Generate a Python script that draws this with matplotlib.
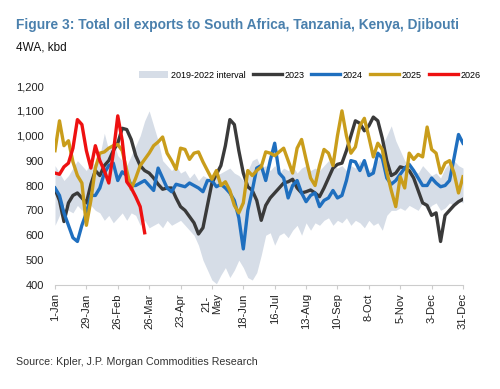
import matplotlib
matplotlib.use("Agg")
import matplotlib.pyplot as plt
import numpy as np

plt.rcParams['font.family'] = ['Liberation Sans', 'DejaVu Sans']

STEP = 4
tick_days = [0, 28, 56, 84, 112, 140, 168, 196, 224, 252, 280, 308, 336, 364]
tick_labels = ["1-Jan", "29-Jan", "26-Feb", "26-Mar", "23-Apr", "21-\nMay", "18-Jun",
               "16-Jul", "13-Aug", "10-Sep", "8-Oct", "5-Nov", "3-Dec", "31-Dec"]

band_lo = [640, 680, 720, 700, 690, 720, 700, 740, 720, 700, 690, 660, 680, 650, 670, 690,
           660, 690, 680, 640, 660, 630, 640, 650, 630, 660, 640, 650, 660, 640, 620, 600,
           560, 500, 460, 420, 405, 440, 470, 430, 460, 500, 470, 430, 420, 450, 520, 600,
           610, 560, 600, 610, 590, 620, 640, 600, 650, 620, 650, 640, 660, 670, 640, 660,
           650, 670, 640, 660, 650, 630, 660, 640, 650, 620, 680, 700, 700, 710, 700, 720,
           710, 700, 730, 700, 720, 730, 700, 710, 730, 720, 740, 730]
band_hi = [880, 850, 820, 840, 870, 900, 880, 860, 900, 880, 920, 1010, 940, 980, 920, 900,
           880, 920, 960, 1000, 1060, 1100, 1040, 980, 900, 880, 860, 880, 850, 860, 830, 850,
           820, 840, 830, 810, 840, 850, 860, 870, 850, 840, 820, 860, 900, 910, 870, 880,
           860, 880, 850, 870, 860, 880, 850, 870, 880, 860, 870, 860, 880, 900, 880, 870,
           880, 860, 880, 870, 900, 880, 860, 880, 900, 960, 1000, 1040, 980, 940, 900, 880,
           860, 850, 880, 860, 840, 850, 830, 870, 890, 900, 880, 870]

y2023 = [785, 740, 655, 730, 760, 770, 750, 730, 805, 860, 840, 880, 900, 940, 970, 1030,
         1025, 985, 920, 880, 860, 850, 830, 805, 785, 790, 790, 750, 715, 700, 675, 650,
         605, 630, 720, 810, 845, 880, 960, 1065, 1045, 940, 850, 795, 780, 740, 660, 720,
         750, 770, 790, 810, 815, 825, 790, 770, 775, 782, 770, 755, 790, 830, 870, 885,
         890, 940, 1000, 1060, 1050, 1020, 1040, 1075, 1060, 990, 900, 840, 850, 875, 870, 860,
         830, 780, 730, 720, 680, 690, 575, 680, 700, 720, 735, 745]
y2024 = [790, 760, 690, 640, 590, 575, 640, 690, 760, 760, 790, 850, 880, 890, 820, 855,
         840, 800, 800, 810, 820, 800, 780, 870, 830, 790, 775, 805, 800, 795, 810, 800,
         790, 775, 820, 820, 795, 805, 790, 770, 740, 670, 545, 700, 780, 870, 880, 820,
         900, 970, 850, 830, 750, 800, 820, 770, 735, 760, 770, 715, 740, 750, 780, 750,
         760, 820, 900, 895, 860, 900, 840, 850, 930, 910, 830, 805, 820, 845, 870, 885,
         860, 830, 800, 800, 830, 810, 795, 800, 820, 910, 1005, 970]
y2025 = [940, 1060, 960, 980, 895, 840, 810, 640, 740, 870, 930, 935, 950, 960, 965, 940,
         860, 785, 830, 880, 905, 930, 960, 975, 995, 930, 900, 865, 950, 945, 905, 930,
         935, 895, 860, 825, 860, 800, 815, 780, 720, 690, 730, 860, 840, 860, 875, 935,
         930, 920, 935, 950, 900, 850, 950, 985, 905, 830, 800, 880, 945, 930, 880, 1000,
         1100, 1000, 930, 955, 1040, 1070, 995, 915, 970, 945, 855, 780, 715, 835, 790, 930,
         905, 925, 915, 1035, 945, 930, 850, 890, 900, 850, 770, 835]
y2026 = [850, 845, 875, 890, 950, 1065, 1045, 940, 870, 960, 900, 860, 810, 930, 1080, 980,
         815, 790, 755, 715, 610]

series = [("2023", y2023, "#3a3a3a"), ("2024", y2024, "#1f6fbf"),
          ("2025", y2025, "#c99d1b"), ("2026", y2026, "#ee1111")]

fig = plt.figure(figsize=(5.0, 3.89), dpi=100)
ax = fig.add_axes([0.11, 1 - 285 / 389, (463 - 55) / 500, (285 - 86) / 389])

days_band = np.arange(len(band_lo)) * STEP
ax.fill_between(days_band, band_lo, band_hi, color="#d6dde7", linewidth=0,
                label="2019-2022 interval")
for name, vals, col in series:
    d = np.arange(len(vals)) * STEP
    ax.plot(d, vals, color=col, lw=2.4, label=name, solid_joinstyle="round")

ax.set_xlim(0, 364)
ax.set_ylim(400, 1200)
ax.set_yticks(range(400, 1201, 100))
ax.set_yticklabels([f"{v:,}" for v in range(400, 1201, 100)], fontsize=8, color="#222222")
ax.set_xticks(tick_days)
ax.set_xticklabels(tick_labels, rotation=90, fontsize=8, color="#222222",
                   va="top", ha="center", linespacing=1.0)
for s in ["top", "right", "left"]:
    ax.spines[s].set_visible(False)
ax.spines["bottom"].set_color("#cccccc")
ax.tick_params(axis="y", length=0, pad=8)
ax.tick_params(axis="x", length=3, color="#cccccc", pad=3)

leg = fig.legend(loc="center", bbox_to_anchor=(0.62, 1 - 75 / 389), ncol=5, frameon=False,
                 fontsize=6.5, handlelength=3.2, handletextpad=0.3, columnspacing=0.8)

fig.text(16 / 500, 1 - 25 / 389, "Figure 3: Total oil exports to South Africa, Tanzania, Kenya, Djibouti",
         fontsize=9.9, fontweight="bold", color="#4a80ad", va="center", ha="left")
fig.text(16 / 500, 1 - 47 / 389, "4WA, kbd", fontsize=8.5, color="#111111", va="center", ha="left")
fig.text(16 / 500, 1 - 362 / 389, "Source: Kpler, J.P. Morgan Commodities Research",
         fontsize=7.7, color="#333333", va="center", ha="left")

fig.savefig("out.png", dpi=100)
